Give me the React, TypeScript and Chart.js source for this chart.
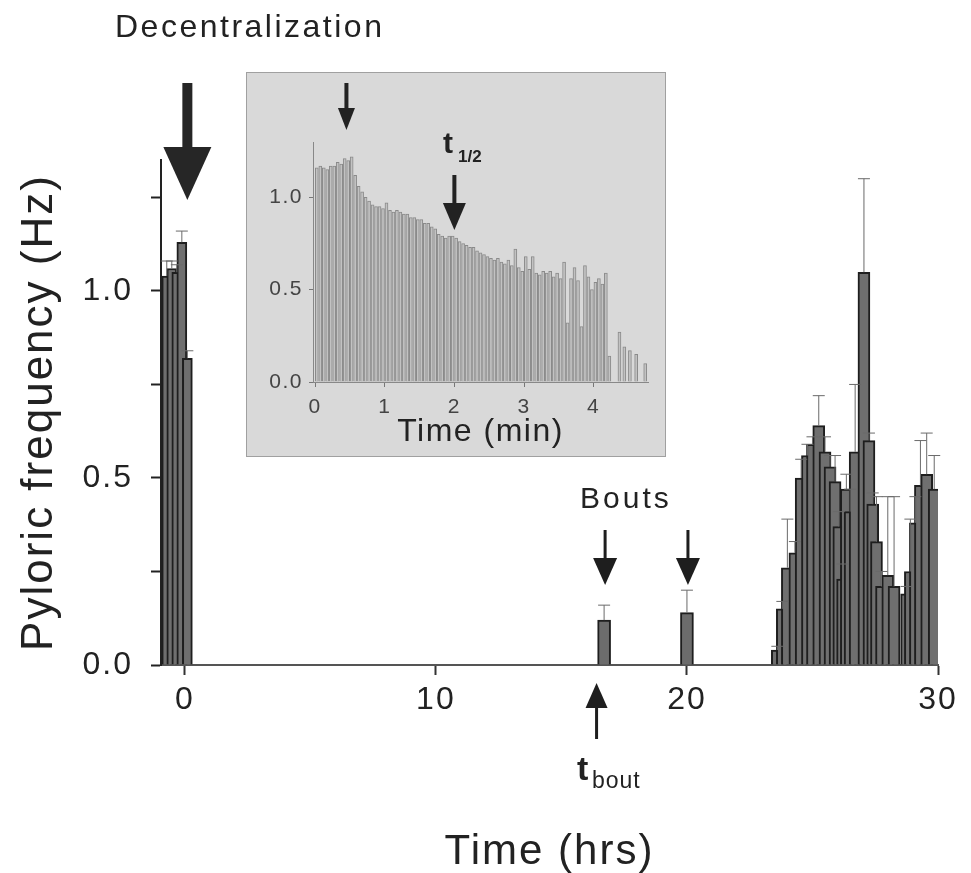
import React, { useEffect, useRef } from 'react';
import { Chart, registerables } from 'chart.js';
Chart.register(...registerables);

const FONT = "'Liberation Sans', Arial, Helvetica, sans-serif";

// ---- main chart data (hours, Hz) ----
const preHrs = [-0.72, -0.52, -0.32, -0.12, 0.1];
const preVals = [1.04, 1.06, 1.05, 1.13, 0.82];
const preErr = [1.08, 1.08, 1.07, 1.16, 0.84];

const boutHrs = [16.7, 20.0];
const boutVals = [0.12, 0.14];
const boutErr = [0.16, 0.2];

const recHrs = [23.6, 23.8, 24.0, 24.3, 24.55, 24.8, 25.0, 25.25, 25.5, 25.7, 25.9, 26.05, 26.2, 26.35, 26.5, 26.7, 27.05, 27.25, 27.4, 27.55, 27.75, 28.0, 28.25, 28.75, 28.9, 29.1, 29.3, 29.55, 29.85];
const recVals = [0.04, 0.15, 0.26, 0.30, 0.50, 0.56, 0.59, 0.64, 0.57, 0.53, 0.49, 0.37, 0.23, 0.47, 0.41, 0.57, 1.05, 0.60, 0.43, 0.33, 0.21, 0.24, 0.21, 0.19, 0.25, 0.38, 0.48, 0.51, 0.47];
const recErr = [0.05, 0.17, 0.39, 0.33, 0.55, 0.59, 0.61, 0.72, 0.61, 0.56, 0.56, 0.41, 0.27, 0.51, 0.47, 0.75, 1.30, 0.62, 0.46, 0.45, 0.25, 0.45, 0.45, 0.21, 0.39, 0.45, 0.60, 0.62, 0.56];

const xTickStep = 10;
const yTickStep = 0.25;
const decentralizationHr = 0.1;
const tBoutHr = 16.4;

// ---- inset data (minutes, Hz) ----
const insetMin = [
  0.025, 0.075, 0.125, 0.175, 0.225, 0.275, 0.325, 0.375, 0.425, 0.475,
  0.525, 0.575, 0.625, 0.675, 0.725, 0.775, 0.825, 0.875, 0.925, 0.975,
  1.025, 1.075, 1.125, 1.175, 1.225, 1.275, 1.325, 1.375, 1.425, 1.475,
  1.525, 1.575, 1.625, 1.675, 1.725, 1.775, 1.825, 1.875, 1.925, 1.975,
  2.025, 2.075, 2.125, 2.175, 2.225, 2.275, 2.325, 2.375, 2.425, 2.475,
  2.525, 2.575, 2.625, 2.675, 2.725, 2.775, 2.825, 2.875, 2.925, 2.975,
  3.025, 3.075, 3.125, 3.175, 3.225, 3.275, 3.325, 3.375, 3.425, 3.475,
  3.525, 3.575, 3.625, 3.675, 3.725, 3.775, 3.825, 3.875, 3.925, 3.975,
  4.025, 4.075, 4.125, 4.175, 4.225,
  4.37, 4.44, 4.52, 4.61, 4.74,
];
const insetVals = [
  1.16, 1.17, 1.16, 1.15, 1.17, 1.17, 1.19, 1.18, 1.21, 1.20,
  1.22, 1.12, 1.06, 1.03, 1.00, 0.98, 0.96, 0.95, 0.95, 0.94,
  0.97, 0.93, 0.92, 0.93, 0.92, 0.91, 0.91, 0.89, 0.89, 0.88,
  0.88, 0.86, 0.86, 0.84, 0.83, 0.80, 0.79, 0.78, 0.79, 0.79,
  0.78, 0.76, 0.75, 0.74, 0.73, 0.73, 0.71, 0.70, 0.69, 0.68,
  0.67, 0.66, 0.67, 0.65, 0.64, 0.66, 0.63, 0.72, 0.62, 0.60,
  0.68, 0.61, 0.68, 0.59, 0.58, 0.60, 0.59, 0.60, 0.57, 0.59,
  0.56, 0.65, 0.32, 0.56, 0.62, 0.55, 0.30, 0.63, 0.57, 0.50,
  0.54, 0.56, 0.53, 0.59, 0.14,
  0.27, 0.19, 0.17, 0.15, 0.10,
];
const insetArrowMin = 0.45;
const tHalfMin = 2.0;

function pts(xs: number[], ys: number[]) {
  return xs.map((x, i) => ({ x, y: ys[i] }));
}

function arrow(ctx: CanvasRenderingContext2D, x: number, yTail: number, yTip: number, shaftW: number, headW: number, headL: number, color: string) {
  const dir = Math.sign(yTip - yTail);
  const yBase = yTip - dir * headL;
  ctx.save();
  ctx.fillStyle = color;
  ctx.fillRect(x - shaftW / 2, Math.min(yTail, yBase), shaftW, Math.abs(yBase - yTail) + 1);
  ctx.beginPath();
  ctx.moveTo(x - headW / 2, yBase);
  ctx.lineTo(x + headW / 2, yBase);
  ctx.lineTo(x, yTip);
  ctx.closePath();
  ctx.fill();
  ctx.restore();
}

const errorBarPlugin = {
  id: 'errorBars',
  afterDatasetsDraw(chart: any) {
    const ctx = chart.ctx as CanvasRenderingContext2D;
    const yScale = chart.scales.y;
    chart.data.datasets.forEach((ds: any, i: number) => {
      if (!ds.errorBars) return;
      const meta = chart.getDatasetMeta(i);
      meta.data.forEach((el: any, j: number) => {
        const e = ds.errorBars[j];
        if (e == null) return;
        const ye = yScale.getPixelForValue(e);
        ctx.save();
        ctx.strokeStyle = '#6a6a6a';
        ctx.lineWidth = 1;
        ctx.beginPath();
        ctx.moveTo(el.x, el.y);
        ctx.lineTo(el.x, ye);
        ctx.moveTo(el.x - 6, ye);
        ctx.lineTo(el.x + 6, ye);
        ctx.stroke();
        ctx.restore();
      });
    });
  },
};

const mainAnnotPlugin = {
  id: 'mainAnnot',
  beforeDraw(chart: any) {
    (chart.ctx as any).letterSpacing = '2px';
  },
  afterDraw(chart: any) {
    const ctx = chart.ctx as CanvasRenderingContext2D;
    const xs = chart.scales.x;
    ctx.save();
    ctx.fillStyle = '#222';
    ctx.textBaseline = 'alphabetic';
    ctx.textAlign = 'left';
    (ctx as any).letterSpacing = '2.5px';
    ctx.font = `32px ${FONT}`;
    ctx.fillText('Decentralization', 115, 37);
    (ctx as any).letterSpacing = '3px';
    ctx.font = `30px ${FONT}`;
    ctx.fillText('Bouts', 580, 508);
    (ctx as any).letterSpacing = '1px';
    ctx.font = `bold 34px ${FONT}`;
    ctx.fillText('t', 577, 780);
    ctx.font = `23px ${FONT}`;
    ctx.fillText('bout', 592, 788);
    ctx.restore();

    arrow(ctx, xs.getPixelForValue(decentralizationHr), 83, 200, 10, 48, 53, '#262626');
    boutHrs.forEach((h) => arrow(ctx, xs.getPixelForValue(h) + 1, 530, 585, 3, 24, 27, '#1e1e1e'));
    arrow(ctx, xs.getPixelForValue(tBoutHr), 738, 683, 3, 22, 25, '#1e1e1e');
  },
};

const insetAnnotPlugin = {
  id: 'insetAnnot',
  beforeDraw(chart: any) {
    (chart.ctx as any).letterSpacing = '1.5px';
  },
  afterDraw(chart: any) {
    const ctx = chart.ctx as CanvasRenderingContext2D;
    const xs = chart.scales.x;
    arrow(ctx, xs.getPixelForValue(insetArrowMin), 10, 57, 4, 17, 22, '#222');
    arrow(ctx, xs.getPixelForValue(tHalfMin), 102, 157, 4, 23, 27, '#222');
    ctx.save();
    ctx.fillStyle = '#222';
    ctx.textAlign = 'left';
    ctx.textBaseline = 'alphabetic';
    (ctx as any).letterSpacing = '0px';
    ctx.font = `bold 30px ${FONT}`;
    ctx.fillText('t', 196, 80);
    ctx.font = `bold 17px ${FONT}`;
    ctx.fillText('1/2', 211, 89);
    ctx.restore();
  },
};

export default function App() {
  const mainRef = useRef<HTMLCanvasElement>(null);
  const insetRef = useRef<HTMLCanvasElement>(null);

  useEffect(() => {
    const barStyle = { backgroundColor: '#6f6f6f', borderColor: '#1e1e1e', borderWidth: 2, borderSkipped: 'bottom' as const, grouped: false };
    const main = new Chart(mainRef.current!, {
      type: 'bar',
      data: {
        datasets: [
          { data: pts(preHrs, preVals), barThickness: 10, errorBars: preErr, ...barStyle } as any,
          { data: pts(boutHrs, boutVals), barThickness: 13, errorBars: boutErr, ...barStyle, backgroundColor: '#6c6c6c' } as any,
          { data: pts(recHrs, recVals), barThickness: 12, errorBars: recErr, ...barStyle } as any,
        ],
      },
      options: {
        animation: false,
        responsive: false,
        events: [],
        layout: { padding: { left: 0, top: 160, right: 33, bottom: 0 } },
        plugins: { legend: { display: false }, tooltip: { enabled: false } },
        scales: {
          x: {
            type: 'linear',
            min: -0.95,
            max: 30,
            offset: false,
            afterFit: (s: any) => { s.height = 208; },
            ticks: {
              stepSize: xTickStep,
              includeBounds: false,
              autoSkip: false,
              maxRotation: 0,
              padding: 6,
              color: '#222',
              font: { family: FONT, size: 32 },
              callback: (v: any) => String(v),
            },
            grid: { display: true, offset: false, drawOnChartArea: false, tickLength: 10, tickColor: '#333', tickWidth: 2 },
            border: { display: true, color: '#555', width: 2 },
            title: { display: true, text: 'Time (hrs)', color: '#222', font: { family: FONT, size: 42, lineHeight: 1 }, padding: { top: 0, bottom: 0 } },
          },
          y: {
            min: 0,
            max: 1.35,
            afterFit: (s: any) => { s.width = 161; },
            ticks: {
              stepSize: yTickStep,
              includeBounds: false,
              autoSkip: false,
              padding: 18,
              color: '#222',
              font: { family: FONT, size: 32 },
              callback: (v: any) => (Math.abs(v * 2 - Math.round(v * 2)) < 1e-6 ? Number(v).toFixed(1) : ''),
            },
            grid: { display: true, drawOnChartArea: false, tickLength: 10, tickColor: '#222', tickWidth: 2 },
            border: { display: true, color: '#222', width: 2 },
            title: { display: true, text: 'Pyloric frequency (Hz)', color: '#222', font: { family: FONT, size: 44, lineHeight: 1 }, padding: { top: 18, bottom: 0 } },
          },
        },
      } as any,
      plugins: [mainAnnotPlugin, errorBarPlugin],
    });

    const inset = new Chart(insetRef.current!, {
      type: 'bar',
      data: {
        datasets: [
          { data: pts(insetMin, insetVals), barThickness: 3, backgroundColor: '#c2c2c2', borderColor: '#8a8a8a', borderWidth: 1, borderSkipped: 'bottom', grouped: false } as any,
        ],
      },
      options: {
        animation: false,
        responsive: false,
        events: [],
        layout: { padding: { left: 0, top: 69, right: 17, bottom: 0 } },
        plugins: { legend: { display: false }, tooltip: { enabled: false } },
        scales: {
          x: {
            type: 'linear',
            min: -0.03,
            max: 4.78,
            offset: false,
            afterFit: (s: any) => { s.height = 74; },
            ticks: { stepSize: 1, includeBounds: false, autoSkip: false, maxRotation: 0, padding: 8, color: '#444', font: { family: FONT, size: 21 }, callback: (v: any) => String(v) },
            grid: { display: true, offset: false, drawOnChartArea: false, tickLength: 5, tickColor: '#777', tickWidth: 1 },
            border: { display: true, color: '#888', width: 1 },
            title: { display: true, text: 'Time (min)', color: '#222', font: { family: FONT, size: 32, lineHeight: 1 }, padding: { top: 0, bottom: 8 } },
          },
          y: {
            min: 0,
            max: 1.3,
            afterFit: (s: any) => { s.width = 66; },
            ticks: { stepSize: 0.5, includeBounds: false, autoSkip: false, padding: 6, color: '#444', font: { family: FONT, size: 21 }, callback: (v: any) => Number(v).toFixed(1) },
            grid: { display: true, drawOnChartArea: false, tickLength: 4, tickColor: '#777', tickWidth: 1 },
            border: { display: true, color: '#888', width: 1 },
          },
        },
      } as any,
      plugins: [insetAnnotPlugin],
    });

    return () => {
      main.destroy();
      inset.destroy();
    };
  }, []);

  return (
    <div style={{ position: 'absolute', left: 0, top: 0, width: 971, height: 873, background: '#fff' }}>
      <canvas ref={mainRef} width={971} height={873} style={{ position: 'absolute', left: 0, top: 0, width: 971, height: 873 }} />
      <div style={{ position: 'absolute', left: 247, top: 73, width: 418, height: 383, background: '#d9d9d9', outline: '1px solid #a0a0a0' }}>
        <canvas ref={insetRef} width={418} height={383} style={{ position: 'absolute', left: 0, top: 0, width: 418, height: 383 }} />
      </div>
    </div>
  );
}
